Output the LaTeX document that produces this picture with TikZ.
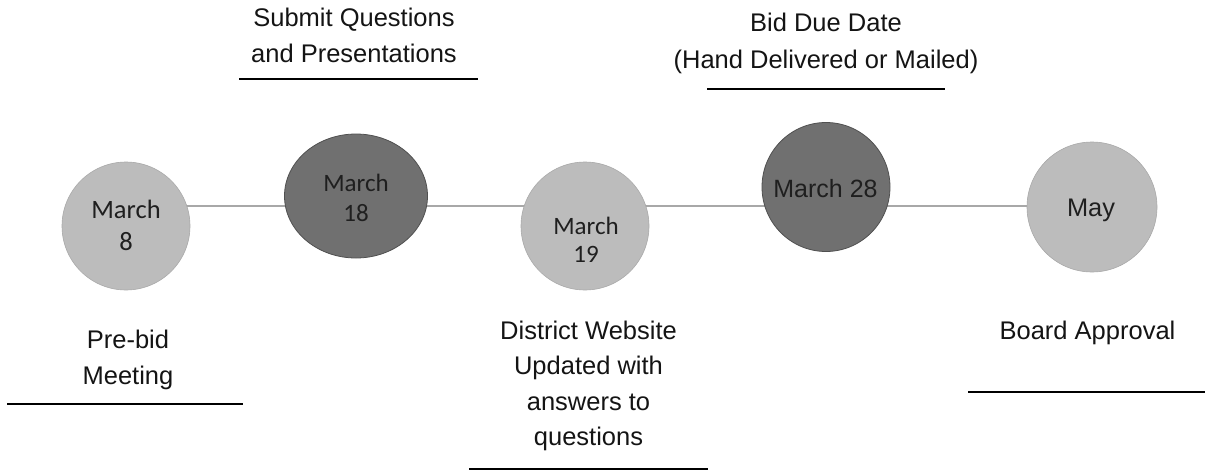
\documentclass[tikz,border=0pt]{standalone}
\usepackage{fontspec}
\setmainfont{Liberation Sans}
\newfontfamily\calib{Carlito}
\usetikzlibrary{shapes.geometric}
\definecolor{lightc}{RGB}{188,188,188}
\definecolor{darkc}{RGB}{112,112,112}
\definecolor{darkb}{RGB}{80,80,80}
\definecolor{linec}{RGB}{168,168,168}
\tikzset{
  lightdot/.style={circle, fill=lightc, draw=lightc!90!black, line width=0.6pt, minimum size=128pt, inner sep=0pt},
  darkdot/.style={ellipse, fill=darkc, draw=darkb, line width=0.8pt, inner sep=0pt},
  datetxt/.style={align=center, text=black!88, inner sep=0pt},
  lbl/.style={font=\fontsize{25.5}{36}\selectfont, align=center, text=black!92, inner sep=0pt},
  uline/.style={line width=1.4pt, black},
  conn/.style={line width=2pt, linec}
}
\begin{document}
\begin{tikzpicture}[x=1pt,y=-1pt]
\useasboundingbox (0,0) rectangle (1205,472);
% timeline
\coordinate (a1) at (126,206);
\coordinate (a5) at (1092,206);
\draw[conn] (a1) -- (a5);
% circles
\node[lightdot] (c1) at (126,226) {};
\node[darkdot, minimum width=143pt, minimum height=124pt] (c2) at (356,196) {};
\node[lightdot] (c3) at (585,226) {};
\node[darkdot, minimum width=128pt, minimum height=129pt] (c4) at (826,187) {};
\node[lightdot, minimum size=130pt] (c5) at (1092,207) {};
% circle texts
\node[datetxt, font=\calib\fontsize{26.5}{32}\selectfont] (t1) at (126,225) {March\\8};
\node[datetxt, font=\calib\fontsize{25}{30}\selectfont] (t2) at (356,198) {March\\18};
\node[datetxt, font=\calib\fontsize{25}{28}\selectfont] (t3) at (586,240) {March\\19};
\node[datetxt, font=\fontsize{25}{30}\selectfont] (t4) at (825.5,189) {March 28};
\node[datetxt, font=\fontsize{25.4}{30}\selectfont] (t5) at (1091,210) {May};
% labels
\node[lbl] (l2) at (354,35) {Submit Questions\\and Presentations};
\node[lbl, font=\fontsize{25.5}{37}\selectfont] (l4) at (826,43) {Bid Due Date\\(Hand Delivered or Mailed)};
\node[lbl] (l1) at (128,360) {Pre-bid\\Meeting};
\node[lbl, font=\fontsize{25.5}{35.5}\selectfont] (l3) at (588.5,386) {District Website\\Updated with\\answers to\\questions};
\node[lbl] (l5) at (1087.5,333) {Board Approval};
% underlines
\coordinate (u2a) at (239,79); \coordinate (u2b) at (478,79);
\coordinate (u4a) at (707,89); \coordinate (u4b) at (945,89);
\coordinate (u1a) at (7,404); \coordinate (u1b) at (243,404);
\coordinate (u3a) at (469,469); \coordinate (u3b) at (708,469);
\coordinate (u5a) at (968,392); \coordinate (u5b) at (1205,392);
\draw[uline] (u2a) -- (u2b);
\draw[uline] (u4a) -- (u4b);
\draw[uline] (u1a) -- (u1b);
\draw[uline] (u3a) -- (u3b);
\draw[uline] (u5a) -- (u5b);
\end{tikzpicture}
\end{document}
